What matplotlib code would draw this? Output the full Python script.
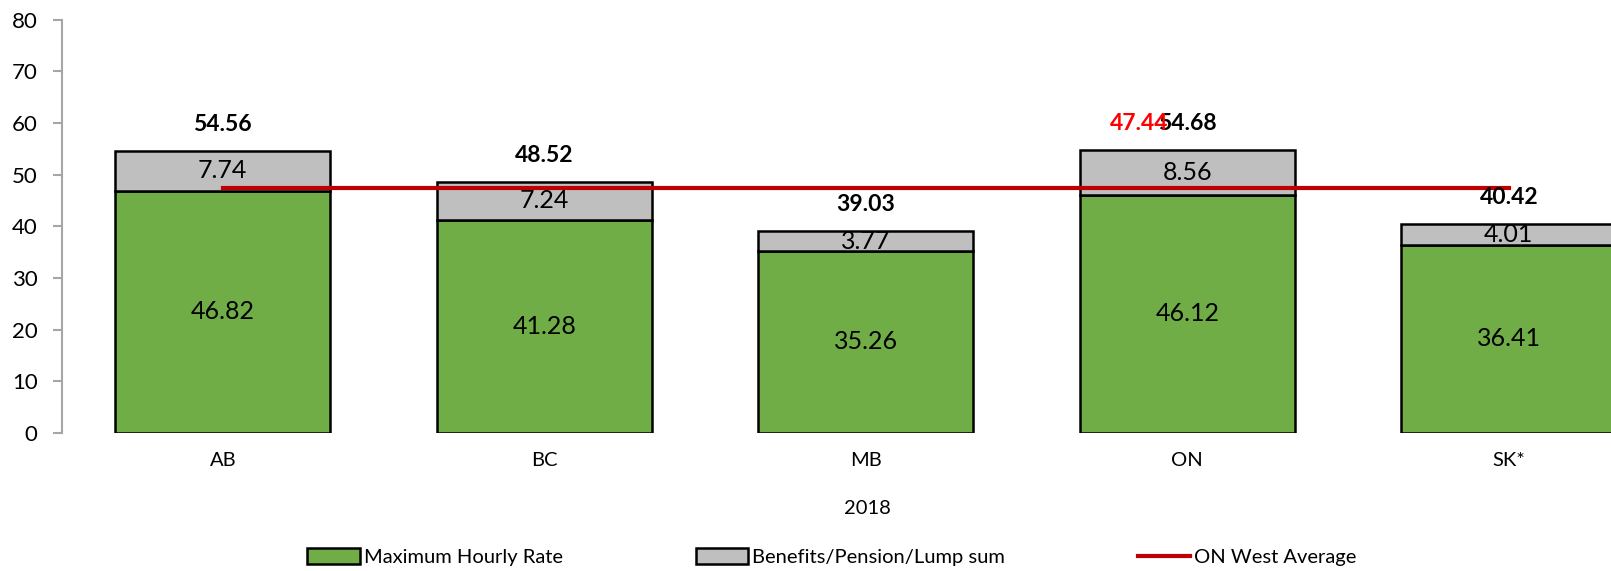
import matplotlib.pyplot as plt
import numpy as np

plt.rcParams['font.family'] = ['Lato', 'DejaVu Sans']

# data
categories = ['AB', 'BC', 'MB', 'ON', 'SK*']
hourly = [46.82, 41.28, 35.26, 46.12, 36.41]
benefits = [7.74, 7.24, 3.77, 8.56, 4.01]
totals = [54.56, 48.52, 39.03, 54.68, 40.42]
on_west_avg = 47.44
year_label = '2018'

green = '#70AD47'
grey = '#BFBFBF'
red = '#C00000'

fig = plt.figure(figsize=(16.11, 5.71), dpi=100)
# plot area runs past the right edge like the original
ax = fig.add_axes([62 / 1611, 138 / 571, 5 * 321.5 / 1611, 413.5 / 571])

x = np.arange(len(categories))
w = 0.67

b1 = ax.bar(x, hourly, w, color=green, edgecolor='black', linewidth=1.8,
            label='Maximum Hourly Rate', zorder=2)
b2 = ax.bar(x, benefits, w, bottom=hourly, color=grey, edgecolor='black',
            linewidth=1.8, label='Benefits/Pension/Lump sum', zorder=2)
l1, = ax.plot([x[0], x[-1]], [on_west_avg, on_west_avg], color=red, lw=3,
              label='ON West Average', zorder=3)

# labels inside the segments
for i in range(len(categories)):
    ax.text(x[i], hourly[i] / 2, f'{hourly[i]:.2f}', ha='center', va='center',
            fontsize=18, zorder=4)
    ax.text(x[i], hourly[i] + benefits[i] / 2, f'{benefits[i]:.2f}',
            ha='center', va='center', fontsize=18, zorder=4)
    ax.text(x[i], totals[i] + 5.2, f'{totals[i]:.2f}', ha='center',
            va='center', fontsize=16.5, fontweight='bold', zorder=4)

# average label (Excel put it next to the ON total, partly on top of it)
ax.text(3 - 0.15, totals[3] + 5.2, f'{on_west_avg:.2f}', ha='center',
        va='center', fontsize=16.5, fontweight='bold', color='#FF0000', zorder=4)

ax.set_xlim(-0.5, len(categories) - 0.5)
ax.set_ylim(0, 80)
ax.set_yticks(range(0, 81, 10))
ax.set_xticks(x)
ax.set_xticklabels(categories)

for s in ['top', 'right', 'bottom']:
    ax.spines[s].set_visible(False)
ax.spines['left'].set_color('#A6A6A6')
ax.spines['left'].set_linewidth(1.5)
ax.tick_params(axis='y', labelsize=16, length=6.5, width=1.5,
               color='#A6A6A6', pad=11)
ax.tick_params(axis='x', labelsize=14.5, length=0, pad=14)

ax.set_xlabel(year_label, fontsize=14.5, va='center')
ax.xaxis.set_label_coords((867 - 62) / (5 * 321.5), -75 / 413.5)

fig.legend(handles=[b1, b2, l1], loc='center',
           bbox_to_anchor=(832 / 1611, 14 / 571), ncol=3,
           frameon=False, fontsize=14.5, handlelength=2.6, handleheight=0.8,
           handletextpad=0.2, columnspacing=6.6)

plt.savefig('out.png', dpi=100)
